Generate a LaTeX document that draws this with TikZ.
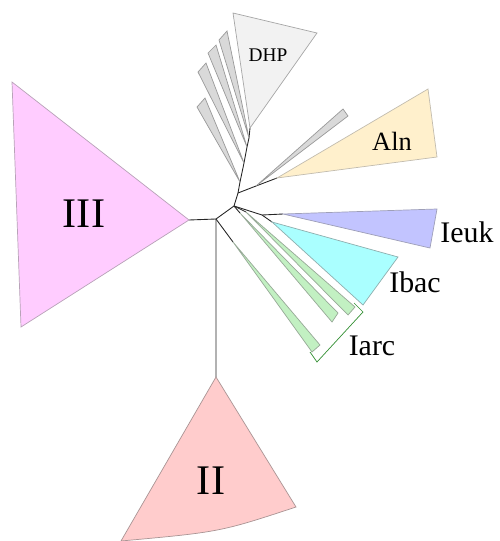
\documentclass[tikz,border=0pt]{standalone}
\usepackage{fontspec}
\setmainfont{Liberation Serif}
\definecolor{grpIII}{RGB}{255, 204, 255}
\definecolor{grpII}{RGB}{255, 204, 204}
\definecolor{grpDHP}{RGB}{242, 242, 242}
\definecolor{grpGray}{RGB}{217, 217, 217}
\definecolor{grpAln}{RGB}{255, 240, 204}
\definecolor{grpIeuk}{RGB}{194, 196, 255}
\definecolor{grpIbac}{RGB}{170, 255, 255}
\definecolor{grpIarc}{RGB}{194, 240, 194}

\begin{document}
\begin{tikzpicture}[
    x=0.02cm, y=-0.02cm,
    branch/.style={line width=0.5pt, black!85},
    clade/.style={line width=0.4pt},
    biglabel/.style={font=\fontsize{24}{28}\selectfont, inner sep=0pt},
    midlabel/.style={font=\fontsize{17}{20}\selectfont, inner sep=0pt},
    smalllabel/.style={font=\fontsize{11}{13}\selectfont, inner sep=0pt}
]
    \useasboundingbox (0,0) rectangle (500,541);

    % inner nodes of the tree
    \coordinate (root) at (216,219);
    \coordinate (nb)   at (234,206);
    \coordinate (nc)   at (238,193);
    \coordinate (ne)   at (262,215);
    \coordinate (nf)   at (256,186);
    \coordinate (n1)   at (240,182);
    \coordinate (n2)   at (244,163);
    \coordinate (n3)   at (247,147);
    \coordinate (n4)   at (249,138);

    % clade apexes
    \coordinate (aIII) at (189,220);
    \coordinate (aII)  at (216,377);
    \coordinate (aDHP) at (250,128);
    \coordinate (aAln) at (277,178);
    \coordinate (aEuk) at (283,214);
    \coordinate (aBac) at (272,222);
    \coordinate (aG1)  at (233,242);
    \coordinate (aG2)  at (240,213);
    \coordinate (aG3)  at (246,212);

    % branches
    \draw[branch] (aIII) -- (root) -- (aII);
    \draw[branch] (root) -- (nb);
    \draw[branch] (root) -- (aG1);
    \draw[branch] (nb) -- (aG2);
    \draw[branch] (nb) -- (aG3);
    \draw[branch] (nb) -- (ne) -- (aEuk);
    \draw[branch] (ne) -- (aBac);
    \draw[branch] (nb) -- (nc) -- (n1) -- (n2) -- (n3) -- (n4) -- (aDHP);
    \draw[branch] (nc) -- (nf) -- (aAln);

    % collapsed clades
    \draw[clade, fill=grpIII, draw=grpIII!60!black!70] (aIII) -- (12,82) -- (21,327) -- cycle;
    \draw[clade, fill=grpII, draw=grpII!55!black!75] (aII) -- (296,507) .. controls (220,532) .. (121,541) -- cycle;
    \draw[clade, fill=grpDHP, draw=black!35] (aDHP) -- (233,13) -- (317,33) -- cycle;
    \draw[clade, fill=grpGray, draw=black!40] (n1) -- (197,107) -- (205,98) -- cycle;
    \draw[clade, fill=grpGray, draw=black!40] (n2) -- (198,72) -- (206,63) -- cycle;
    \draw[clade, fill=grpGray, draw=black!40] (n3) -- (208,53) -- (216,45) -- cycle;
    \draw[clade, fill=grpGray, draw=black!40] (n4) -- (219,40) -- (227,31) -- cycle;
    \draw[clade, fill=grpGray, draw=black!40] (nf) -- (343,109) -- (348,116) -- cycle;
    \draw[clade, fill=grpAln, draw=grpAln!60!black!60] (aAln) -- (428,89) -- (437,157) -- cycle;
    \draw[clade, fill=grpIeuk, draw=grpIeuk!60!black!70] (aEuk) -- (437,209) -- (430,248) -- cycle;
    \draw[clade, fill=grpIbac, draw=grpIbac!55!black!70] (aBac) -- (398,257) -- (363,305) -- cycle;
    \draw[clade, fill=grpIarc, draw=grpIarc!55!black!70] (aG1) -- (320,345) -- (312,352) -- cycle;
    \draw[clade, fill=grpIarc, draw=grpIarc!55!black!70] (aG2) -- (338,313) -- (332,322) -- cycle;
    \draw[clade, fill=grpIarc, draw=grpIarc!55!black!70] (aG3) -- (355,307) -- (348,315) -- cycle;

    % bracket around the archaeal group
    \draw[clade, draw=green!45!black!80] (354,303) -- (363,312) -- (317,362) -- (310,352);

    % labels
    \node[biglabel]   (lIII)  at (84,214)  {III};
    \node[biglabel]   (lII)   at (211,481) {II};
    \node[smalllabel] (lDHP)  at (268,55)  {DHP};
    \node[midlabel, font=\fontsize{15}{18}\selectfont] (lAln) at (392,141) {Aln};
    \node[midlabel]   (lIeuk) at (467,232) {Ieuk};
    \node[midlabel]   (lIbac) at (415,282) {Ibac};
    \node[midlabel]   (lIarc) at (372,346) {Iarc};
\end{tikzpicture}
\end{document}
